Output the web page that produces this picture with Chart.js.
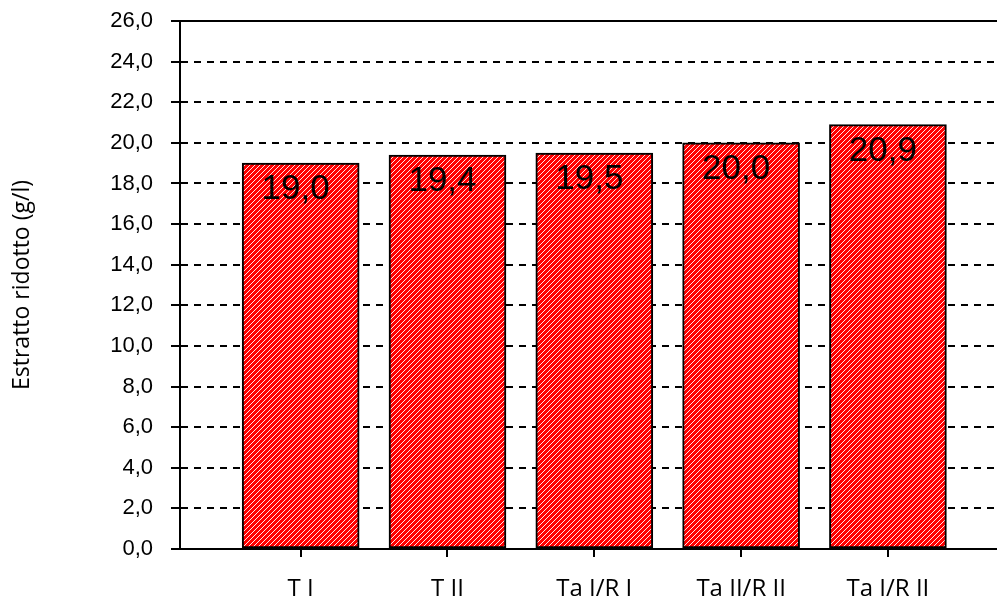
<!DOCTYPE html>
<html>
<head>
<meta charset="utf-8">
<script src="https://cdn.jsdelivr.net/npm/chart.js@4"></script>
<style>
  html, body { margin: 0; padding: 0; background: #fff; overflow: hidden; }
</style>
</head>
<body>
<canvas id="c" width="997" height="602"></canvas>
<script>
// Treatments and reduced extract values (g/l)
const categories = ['T I', 'T II', 'Ta I/R I', 'Ta II/R II', 'Ta I/R II'];
const slots = [1, 2, 3, 4, 5];
const values = [19.0, 19.4, 19.5, 20.0, 20.9];
const yMin = 0, yMax = 26, yStep = 2;

const fmt = v => v.toFixed(1).replace('.', ',');

// Red fill with thin white diagonal hatching (one crisp pixel per row)
function hatchPattern() {
  const s = 5;
  const c = document.createElement('canvas');
  c.width = s; c.height = s;
  const g = c.getContext('2d');
  g.fillStyle = '#ff0000';
  g.fillRect(0, 0, s, s);
  g.fillStyle = 'rgba(255,255,255,0.9)';
  for (let i = 0; i < s; i++) g.fillRect(i, s - 1 - i, 1, 1);
  return g.createPattern(c, 'repeat');
}

// Solid top frame line, cross ticks on the value axis and value labels in the bars
const decorations = {
  id: 'decorations',
  afterDatasetsDraw(chart) {
    const { ctx, chartArea: a, scales: { y } } = chart;
    ctx.save();
    ctx.strokeStyle = '#000';
    ctx.lineWidth = 2;
    ctx.beginPath();
    const top = Math.round(y.getPixelForValue(yMax));
    ctx.moveTo(a.left, top);
    ctx.lineTo(a.right, top);
    y.ticks.forEach(t => {
      const py = Math.round(y.getPixelForValue(t.value));
      ctx.moveTo(a.left - 9, py);
      ctx.lineTo(a.left + 6, py);
    });
    ctx.stroke();

    const meta = chart.getDatasetMeta(0);
    ctx.fillStyle = '#000';
    ctx.font = '35px "Liberation Sans", Arial, sans-serif';
    ctx.textAlign = 'center';
    ctx.textBaseline = 'alphabetic';
    meta.data.forEach((bar, i) => {
      ctx.fillText(fmt(values[i]), bar.x - 5, bar.y + 36);
    });
    ctx.restore();
  }
};

new Chart(document.getElementById('c'), {
  type: 'bar',
  data: {
    datasets: [{
      data: slots.map((s, i) => ({ x: s, y: values[i] })),
      backgroundColor: hatchPattern(),
      borderColor: '#000',
      borderWidth: 2,
      borderSkipped: false,
      barThickness: 117
    }]
  },
  options: {
    responsive: false,
    animation: false,
    devicePixelRatio: 1,
    layout: { padding: { top: 21, right: 0, left: 0, bottom: 0 } },
    plugins: { legend: { display: false }, tooltip: { enabled: false } },
    scales: {
      x: {
        type: 'linear',
        offset: false,
        min: 0.178,
        max: 5.743,
        afterBuildTicks: s => { s.ticks = slots.map(v => ({ value: v })); },
        afterFit: s => { s.height = 53; },
        grid: {
          offset: false,
          drawOnChartArea: false,
          drawTicks: true,
          tickLength: 8,
          tickColor: '#000',
          tickWidth: 2,
          color: '#000',
          lineWidth: 2
        },
        border: { display: true, color: '#000', width: 2 },
        ticks: {
          autoSkip: false,
          maxRotation: 0,
          padding: 18,
          color: '#000',
          font: { family: '"Open Sans"', size: 24 },
          callback: v => categories[v - 1]
        }
      },
      y: {
        min: yMin,
        max: yMax,
        afterFit: s => { s.width = 180; },
        ticks: {
          stepSize: yStep,
          padding: 0,
          color: '#000',
          font: { family: '"Liberation Sans", Arial', size: 22 },
          callback: v => fmt(v)
        },
        grid: {
          drawTicks: true,
          tickLength: 27,
          tickColor: 'rgba(0,0,0,0)',
          lineWidth: 2,
          color: c => (c.tick && (c.tick.value === yMin || c.tick.value === yMax)) ? 'rgba(0,0,0,0)' : '#000'
        },
        border: { display: true, color: '#000', width: 2, dash: [7, 6] },
        title: {
          display: true,
          text: 'Estratto ridotto (g/l)',
          color: '#000',
          font: { family: '"Open Sans"', size: 23 },
          padding: { top: 9, bottom: 0 }
        }
      }
    }
  },
  plugins: [decorations]
});
</script>
</body>
</html>
